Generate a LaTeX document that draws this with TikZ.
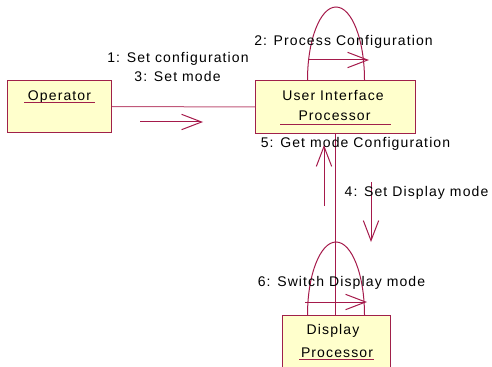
\documentclass[tikz,border=0pt]{standalone}
\usepackage{fontspec}
\setmainfont{Liberation Sans}[LetterSpace=8]
\usetikzlibrary{arrows.meta}
\definecolor{boxfill}{HTML}{FFFFCC}
\definecolor{boxline}{HTML}{A0204A}
\definecolor{msgline}{HTML}{A51A4B}
\definecolor{linkline}{HTML}{C0587A}

\begin{document}
\begin{tikzpicture}[x=0.75pt,y=-0.75pt,
  obj/.style={draw=boxline, fill=boxfill, line width=0.75pt, inner sep=0pt, anchor=north west},
  lbl/.style={font=\fontsize{10.5}{12}\selectfont, anchor=base, inner sep=0pt},
  uline/.style={draw=boxline, line width=0.75pt},
  link/.style={draw=linkline, line width=0.75pt},
  selfloop/.style={draw=msgline, line width=0.75pt},
  msg/.style={draw=msgline, line width=0.75pt,
    -{Straight Barb[length=15pt,width=11.5pt,line width=0.75pt]}}
]
\useasboundingbox (0,0) rectangle (492,367);

% objects
\node[obj, minimum width=78pt, minimum height=39pt] (op) at (7,80) {};
\node[obj, minimum width=120pt, minimum height=39.75pt] (ui) at (255,80) {};
\node[obj, minimum width=81pt, minimum height=45pt] (dp) at (282,315) {};

% self loops (half ellipses standing on the boxes)
\draw[selfloop] ([xshift=-21pt]ui.north) arc[start angle=180, end angle=0, x radius=21.375pt, y radius=54.75pt];
\draw[selfloop] ([xshift=-21.75pt]dp.north) arc[start angle=180, end angle=0, x radius=21.375pt, y radius=54.75pt];

% links
\draw[link] (op.east) -- (ui.west);
\draw[msgline, line width=0.75pt] (ui.south) -- (ui.south |- dp.north);

% object names
\node[lbl] (opname) at (59.5,101) {Operator};
\draw[uline] (24,103) -- (95,103);
\node[lbl] (uiname1) at (333,101) {User Interface};
\node[lbl] (uiname2) at (334.5,121) {Processor};
\draw[uline] (280,125) -- (391,125);
\node[lbl] (dpname1) at (333,334) {Display};
\node[lbl] (dpname2) at (337,357) {Processor};
\draw[uline] (299,359) -- (374,359);

% message arrows
\coordinate (m1s) at (140,122);  \coordinate (m1e) at (203,122);
\coordinate (m2s) at (309,60);   \coordinate (m2e) at (369,60);
\coordinate (m4s) at (371,182);  \coordinate (m4e) at (371,242);
\coordinate (m5s) at (324,206);  \coordinate (m5e) at (324,145);
\coordinate (m6s) at (305,302);  \coordinate (m6e) at (367,302);
\draw[msg] (m1s) -- (m1e);
\draw[msg] (m2s) -- (m2e);
\draw[msg] (m4s) -- (m4e);
\draw[msg] (m5s) -- (m5e);
\draw[msg] (m6s) -- (m6e);

% message labels
\node[lbl] (l1) at (178,63) {1: Set configuration};
\node[lbl] (l3) at (177.5,82) {3: Set mode};
\node[lbl] (l2) at (343.5,46) {2: Process Configuration};
\node[lbl] (l5) at (355.5,147) {5: Get mode Configuration};
\node[lbl] (l4) at (416.5,196) {4: Set Display mode};
\node[lbl] (l6) at (341.5,286) {6: Switch Display mode};
\end{tikzpicture}
\end{document}
